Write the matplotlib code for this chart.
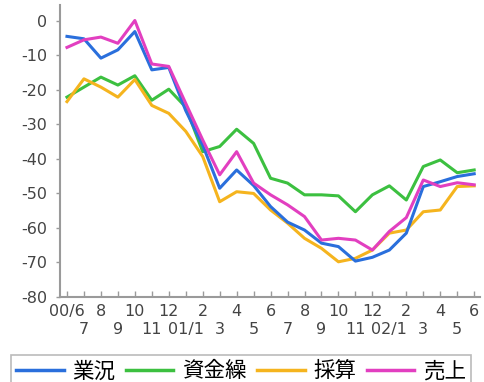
import numpy as np
import matplotlib
matplotlib.use("Agg")
import matplotlib.pyplot as plt

plt.rcParams['font.family'] = ['Noto Sans CJK JP', 'DejaVu Sans']
plt.rcParams['axes.unicode_minus'] = False

# monthly DI, 2000/6 .. 2002/6
months = ["00/6", "7", "8", "9", "10", "11", "12", "01/1", "2", "3", "4", "5",
          "6", "7", "8", "9", "10", "11", "12", "02/1", "2", "3", "4", "5", "6"]

gyokyo = [-4.5, -5.2, -10.8, -8.4, -3.1, -14.2, -13.5, -26, -36, -48.5, -43.2, -47.7,
          -53.8, -58.3, -60.6, -64.4, -65.4, -69.6, -68.5, -66.4, -61.5, -48, -46.6, -45.1, -44.3]
shikinguri = [-22.1, -19.2, -16.3, -18.6, -15.9, -23, -19.8, -25, -37.9, -36.4, -31.4, -35.5,
              -45.6, -47, -50.4, -50.4, -50.7, -55.3, -50.4, -47.8, -51.9, -42.2, -40.3, -44, -43.2]
saisan = [-23.4, -16.8, -19.2, -22.1, -17, -24.5, -26.8, -32, -39.3, -52.4, -49.5, -50,
          -54.8, -58.6, -63, -65.9, -69.8, -68.8, -66.4, -61.5, -60.6, -55.3, -54.8, -48, -47.8]
uriage = [-7.7, -5.5, -4.7, -6.5, 0.1, -12.5, -13.2, -23.9, -34.5, -44.6, -37.9, -47,
          -50.4, -53.3, -56.7, -63.5, -63, -63.5, -66.4, -61, -57, -46.1, -48, -46.9, -47.5]

series = [("業況", gyokyo, "#2a6fdc"),
          ("資金繰", shikinguri, "#3cc040"),
          ("採算", saisan, "#f5b41e"),
          ("売上", uriage, "#e23fc0")]

fig = plt.figure(figsize=(4.84, 3.82), dpi=100)
ax = fig.add_axes([0.124, 0.2225, 0.868, 0.7645])

x = np.arange(len(months))
lines = {}
for name, vals, col in series:
    lines[name], = ax.plot(x, vals, color=col, lw=2.2, label=name)
# green/yellow sit under blue/pink
lines["資金繰"].set_zorder(2)
lines["採算"].set_zorder(2.1)
lines["業況"].set_zorder(2.2)
lines["売上"].set_zorder(2.3)

ax.set_xlim(-0.41, 24.35)
ax.set_ylim(-80, 4.6)
ax.set_yticks(np.arange(-80, 1, 10))

ax.set_xticks(x[::2])
ax.set_xticklabels(months[::2])
ax.set_xticks(x[1::2], minor=True)
ax.set_xticklabels(months[1::2], minor=True)

grey = "#9a9a9a"
for s in ["top", "right"]:
    ax.spines[s].set_visible(False)
for s in ["left", "bottom"]:
    ax.spines[s].set_color(grey)
    ax.spines[s].set_linewidth(1.5)

for lab in ax.get_yticklabels() + ax.get_xticklabels() + ax.get_xticklabels(minor=True):
    lab.set_fontfamily("DejaVu Sans")
    lab.set_fontsize(11.5)

ax.tick_params(axis="y", direction="out", length=3, width=1, color=grey,
               labelcolor="#444444", pad=6)
ax.tick_params(axis="x", which="both", direction="in", length=4, width=1, color=grey,
               labelcolor="#444444")
ax.tick_params(axis="x", which="major", pad=5)
ax.tick_params(axis="x", which="minor", pad=18)

leg = fig.legend(loc="upper left", bbox_to_anchor=(11 / 484, 1 - 355 / 382), ncol=4,
                 fontsize=15.5, frameon=True, fancybox=False, edgecolor="#aaaaaa",
                 handlelength=2.2, columnspacing=0.5, handletextpad=0.4,
                 borderpad=0.25, borderaxespad=0)
leg.get_frame().set_linewidth(1.2)
for h in leg.get_lines():
    h.set_linewidth(2.5)

fig.savefig("out.png", dpi=100)
